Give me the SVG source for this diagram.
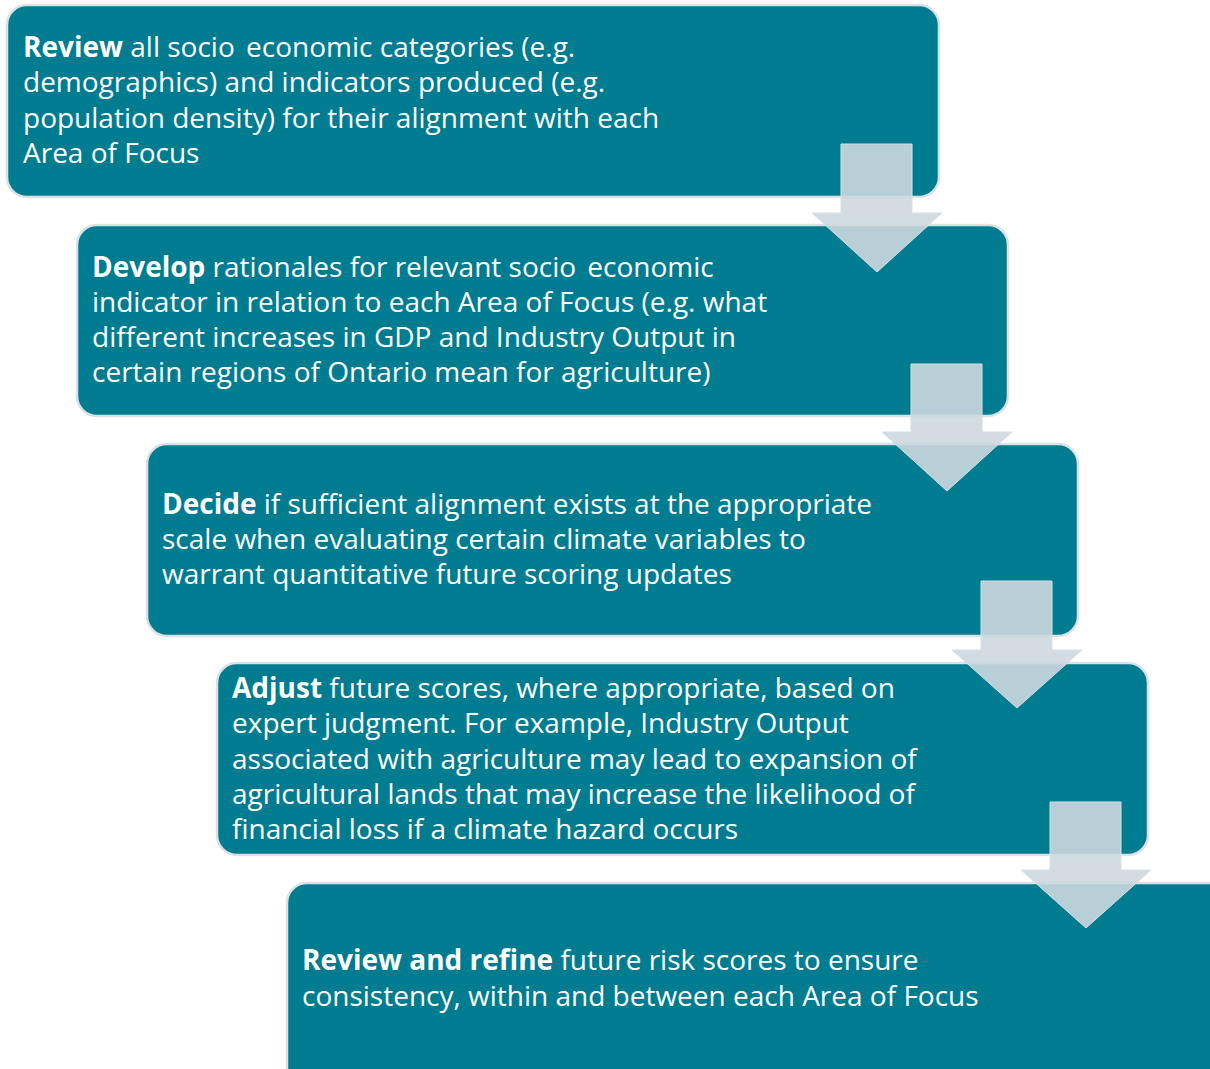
<svg xmlns="http://www.w3.org/2000/svg" width="1210" height="1069" viewBox="0 0 1210 1069">
<style>
.box{fill:#007C91;stroke:#DCE1E5;stroke-width:2.5}
.arrow{fill:#CDD8DF;fill-opacity:0.9;stroke:#D8E0E6;stroke-width:1}
text{font-family:"Open Sans",Lato,sans-serif;font-size:28px;fill:#FFFFFF}
.b{font-weight:bold}
</style>
<rect width="1210" height="1069" fill="#FFFFFF"/>
<g id="node1">
<rect class="box" x="7" y="5" width="932" height="192" rx="20"/>
<text x="23" y="57"><tspan class="b">Review</tspan> all socio <tspan dx="4">economic categories (e.g.</tspan></text>
<text x="23" y="92">demographics) and indicators produced (e.g.</text>
<text x="23" y="128">population density) for their alignment with each</text>
<text x="23" y="163">Area of Focus</text>
</g>
<g id="node2">
<rect class="box" x="77" y="225" width="931" height="191" rx="20"/>
<text x="92" y="277"><tspan class="b">Develop</tspan> rationales for relevant socio <tspan dx="4">economic</tspan></text>
<text x="92" y="312">indicator in relation to each Area of Focus (e.g. what</text>
<text x="92" y="347">different increases in GDP and Industry Output in</text>
<text x="92" y="382">certain regions of Ontario mean for agriculture)</text>
</g>
<g id="node3">
<rect class="box" x="147" y="444" width="931" height="192" rx="20"/>
<text x="162" y="514"><tspan class="b">Decide</tspan> if sufficient alignment exists at the appropriate</text>
<text x="162" y="549">scale when evaluating certain climate variables to</text>
<text x="162" y="584">warrant quantitative future scoring updates</text>
</g>
<g id="node4">
<rect class="box" x="217" y="663" width="931" height="192" rx="20"/>
<text x="232" y="698"><tspan class="b">Adjust</tspan> future scores, where appropriate, based on</text>
<text x="232" y="733">expert judgment. For example, Industry Output</text>
<text x="232" y="769">associated with agriculture may lead to expansion of</text>
<text x="232" y="804">agricultural lands that may increase the likelihood of</text>
<text x="232" y="839">financial loss if a climate hazard occurs</text>
</g>
<g id="node5">
<rect class="box" x="287" y="883" width="960" height="220" rx="20"/>
<text x="302" y="970"><tspan class="b">Review and refine</tspan> future risk scores to ensure</text>
<text x="302" y="1006">consistency, within and between each Area of Focus</text>
</g>
<g id="connectors">
<polygon class="arrow" points="841,144 912,144 912,213 942,213 877,272 812,213 841,213"/>
<polygon class="arrow" points="911,364 982,364 982,432 1012,432 947,491 882,432 911,432"/>
<polygon class="arrow" points="981,581 1052,581 1052,650 1082,650 1017,708 952,650 981,650"/>
<polygon class="arrow" points="1050,802 1121,802 1121,870 1151,870 1086,928 1021,870 1050,870"/>
</g>
</svg>
